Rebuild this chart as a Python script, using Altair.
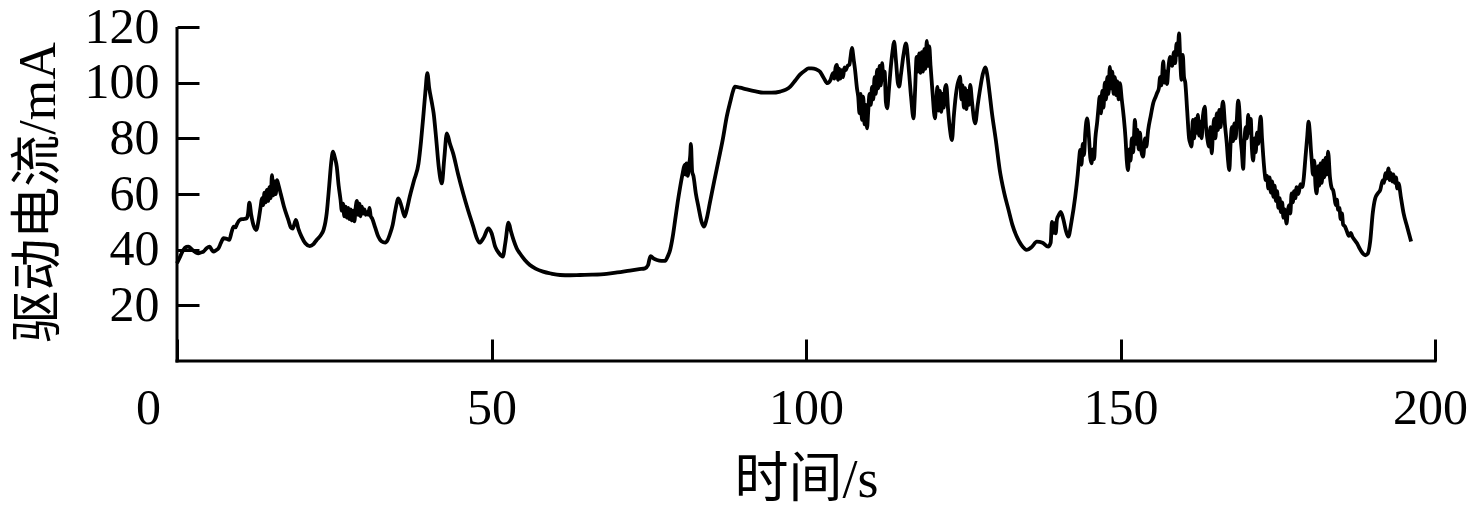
import altair as alt
import pandas as pd

# time (s), drive current (mA), in four segments
seg_0_50 = [
    [0, 35.1], [0.5, 37.5], [1.0, 39.9], [1.5, 41.0], [1.8, 41.1], [2.4, 40.0], [3.0, 39.0], [3.4, 38.7],
    [3.8, 39.0], [4.2, 39.3], [4.7, 40.5], [5.2, 41.1], [5.5, 40.0], [5.8, 39.3], [6.2, 39.8], [6.6, 40.5],
    [7.0, 42.5], [7.4, 44.1], [7.8, 44.0], [8.3, 43.5], [8.7, 46.5], [9.0, 48.3], [9.3, 48.0], [9.5, 49.0],
    [10.0, 50.7], [10.5, 51.0], [11.1, 51.3], [11.3, 53.0], [11.5, 56.9], [11.8, 52.5], [12.2, 48.5],
    [12.6, 47.1], [13.0, 51.0], [13.3, 55.5], [13.5, 58.5], [13.7, 56.0], [13.9, 60.5], [14.1, 57.0],
    [14.3, 61.5], [14.5, 57.5], [14.7, 62.5], [14.9, 58.5], [15.1, 66.8], [15.3, 59.5], [15.5, 64.5],
    [15.7, 60.0], [15.9, 65.0], [16.1, 63.5], [16.5, 60.0], [17.0, 55.5], [17.7, 50.7], [18.1, 48.0],
    [18.4, 47.6], [18.9, 50.7], [19.3, 47.5], [19.8, 44.7], [20.4, 42.3], [21.1, 41.3], [21.7, 42.0],
    [22.2, 43.5], [22.8, 45.0], [23.3, 47.1], [23.6, 50.0], [23.8, 53.1], [24.2, 63.0], [24.5, 71.0],
    [24.8, 75.2], [25.1, 73.0], [25.4, 69.8], [25.7, 63.0], [26.0, 57.9], [26.2, 54.0], [26.4, 56.5],
    [26.6, 52.0], [26.8, 55.5], [27.0, 51.5], [27.2, 55.0], [27.4, 51.0], [27.6, 54.5], [27.8, 50.5],
    [28.0, 54.0], [28.2, 50.2], [28.4, 55.0], [28.6, 57.5], [28.8, 52.5], [29.0, 56.5], [29.2, 52.0],
    [29.4, 55.5], [29.6, 53.0], [29.8, 54.5], [30.0, 52.5], [30.2, 53.5], [30.4, 52.5], [30.6, 55.0],
    [30.8, 52.0], [31.0, 51.3], [31.5, 48.0], [32.0, 44.7], [32.5, 43.0], [33.1, 42.5], [33.5, 43.5],
    [33.9, 45.9], [34.3, 49.0], [34.7, 54.0], [35.2, 58.4], [35.7, 55.5], [36.2, 51.9], [36.6, 55.0],
    [37.0, 59.0], [37.7, 65.0], [38.4, 71.0], [38.8, 79.0], [39.2, 89.0], [39.5, 97.0], [39.8, 103.4],
    [40.1, 98.0], [40.5, 93.0], [40.8, 89.0], [41.2, 80.0], [41.6, 70.0], [42.1, 63.8], [42.5, 73.0],
    [42.9, 81.8], [43.4, 78.0], [43.9, 74.6], [44.7, 67.0], [45.5, 60.2], [46.3, 54.0], [47.1, 48.3],
    [47.6, 44.5], [48.1, 42.5], [48.8, 44.5], [49.5, 47.6], [50.0, 46.0],
]
seg_50_100 = [
    [50.6, 41.0], [51.2, 38.7], [51.8, 37.5], [52.2, 42.5], [52.7, 49.7], [53.1, 46.5], [53.5, 43.5],
    [54.0, 40.5], [54.5, 38.7], [55.3, 36.3], [56.1, 34.5], [57.0, 33.2], [58.2, 32.1], [59.5, 31.4],
    [60.9, 30.9], [62.5, 30.8], [64.1, 30.9], [66.0, 31.0], [68.3, 31.3], [70.0, 31.8], [72.0, 32.5],
    [73.5, 33.0], [74.4, 33.3], [74.9, 34.5], [75.1, 36.5], [75.3, 37.7], [75.8, 36.8], [76.3, 36.3],
    [77.0, 36.0], [77.6, 36.0], [78.0, 37.5], [78.4, 39.9], [78.8, 44.5], [79.2, 50.7], [79.6, 57.0],
    [80.0, 62.6], [80.4, 67.5], [80.7, 70.5], [80.8, 67.0], [81.0, 71.0], [81.2, 66.5], [81.4, 70.5],
    [81.6, 74.0], [81.7, 78.0], [81.9, 68.0], [82.1, 66.5], [82.5, 60.0], [82.9, 55.4], [83.4, 50.0],
    [83.8, 48.3], [84.2, 51.0], [84.7, 56.6], [85.4, 64.5], [86.1, 72.2], [86.8, 80.0], [87.4, 87.8],
    [88.0, 93.5], [88.4, 97.0], [88.7, 98.6], [89.5, 98.2], [90.6, 97.6], [92.0, 96.9], [93.2, 96.4],
    [94.5, 96.4], [95.9, 96.8], [96.8, 97.5], [97.5, 98.6], [98.3, 100.8], [99.0, 102.8], [99.8, 104.3],
]
seg_100_150 = [
    [100.4, 105.1], [100.9, 105.1], [101.6, 104.8], [102.2, 104.0], [102.8, 101.8], [103.4, 99.8],
    [103.9, 101.0], [104.3, 103.4], [104.5, 101.5], [104.7, 105.5], [104.9, 106.4], [105.1, 101.0],
    [105.3, 105.0], [105.5, 101.5], [105.7, 104.5], [105.9, 102.0], [106.1, 105.5], [106.3, 104.5],
    [106.6, 106.0], [106.9, 106.5], [107.1, 109.5], [107.3, 112.5], [107.6, 108.0], [107.8, 104.6],
    [108.1, 98.0], [108.3, 95.0], [108.5, 89.0], [108.7, 96.0], [108.9, 86.6], [109.1, 95.0],
    [109.3, 85.0], [109.5, 92.0], [109.7, 83.6], [109.9, 90.0], [110.1, 96.0], [110.3, 92.0],
    [110.5, 98.5], [110.7, 94.0], [110.9, 102.0], [111.1, 96.0], [111.3, 104.6], [111.5, 98.0],
    [111.7, 106.0], [111.9, 99.0], [112.1, 107.0], [112.3, 101.0], [112.5, 104.0], [112.7, 93.0],
    [112.9, 90.8], [113.2, 98.0], [113.5, 106.0], [113.8, 112.0], [114.0, 114.7], [114.3, 108.0],
    [114.6, 100.0], [114.8, 98.6], [115.1, 103.0], [115.5, 110.0], [115.9, 114.1], [116.3, 106.0],
    [116.7, 95.0], [117.1, 87.2], [117.3, 95.0], [117.6, 109.3], [117.8, 104.0], [118.0, 110.5],
    [118.2, 103.5], [118.4, 111.0], [118.6, 104.0], [118.8, 112.0], [119.0, 105.0], [119.2, 115.0],
    [119.4, 106.0], [119.6, 113.0], [119.8, 106.0], [120.1, 97.0], [120.5, 87.2], [120.7, 93.0],
    [120.9, 98.5], [121.1, 90.0], [121.3, 97.0], [121.5, 89.5], [121.7, 96.0], [121.9, 91.0],
    [122.1, 98.0], [122.3, 99.2], [122.6, 90.0], [122.9, 83.0], [123.2, 79.4], [123.5, 88.0],
    [123.8, 95.0], [124.1, 99.5], [124.3, 101.0], [124.5, 102.2], [124.7, 94.0], [124.9, 99.0],
    [125.1, 91.0], [125.3, 98.0], [125.5, 90.5], [125.7, 97.0], [125.9, 92.0], [126.1, 99.2],
    [126.4, 93.0], [126.7, 87.0], [126.9, 85.4], [127.3, 92.0], [127.7, 98.0], [128.1, 103.0],
    [128.5, 105.5], [128.8, 103.0], [129.2, 96.0], [129.5, 90.2], [130.2, 79.0], [130.8, 68.6],
    [131.5, 60.5], [132.2, 54.3], [132.8, 49.0], [133.5, 44.7], [134.2, 41.8], [135.1, 39.9],
    [135.9, 41.0], [136.7, 42.9], [137.6, 42.5], [138.5, 41.1], [138.9, 42.5], [139.1, 50.0],
    [139.3, 46.0], [139.5, 49.5], [139.7, 45.9], [139.9, 51.0], [140.2, 52.5], [140.5, 53.6],
    [140.9, 51.0], [141.3, 47.0], [141.7, 44.7], [142.2, 50.0], [142.8, 59.0], [143.2, 67.0],
    [143.4, 72.0], [143.6, 75.8], [143.8, 70.5], [144.0, 78.0], [144.2, 74.0], [144.4, 82.0],
    [144.7, 87.2], [145.0, 80.0], [145.2, 73.0], [145.4, 71.0], [145.6, 76.0], [145.8, 72.5],
    [146.0, 80.0], [146.3, 86.0], [146.5, 91.0], [146.7, 95.0], [146.9, 89.0], [147.1, 97.0],
    [147.3, 91.0], [147.5, 100.0], [147.7, 94.0], [147.9, 102.0], [148.1, 96.0], [148.3, 105.7],
    [148.5, 98.0], [148.7, 104.0], [148.9, 96.0], [149.1, 102.0], [149.3, 95.5], [149.5, 100.5],
    [149.7, 94.0], [149.9, 99.8],
]
seg_150_200 = [
    [150.2, 94.0], [150.5, 88.0], [150.8, 80.0], [151.0, 72.0], [151.2, 68.6], [151.4, 76.0],
    [151.6, 72.0], [151.8, 80.0], [152.0, 75.0], [152.3, 86.6], [152.5, 78.0], [152.7, 83.0],
    [152.9, 76.0], [153.1, 82.0], [153.3, 75.5], [153.6, 73.4], [153.9, 80.0], [154.1, 77.0],
    [154.4, 83.0], [154.8, 88.0], [155.2, 92.6], [155.6, 95.0], [155.8, 96.2], [156.1, 98.0],
    [156.3, 102.0], [156.5, 99.0], [156.8, 107.6], [157.0, 100.0], [157.2, 104.0], [157.4, 99.5],
    [157.6, 105.0], [157.9, 109.3], [158.2, 106.0], [158.5, 111.0], [158.7, 107.0], [158.9, 114.0],
    [159.1, 110.0], [159.3, 117.7], [159.5, 108.0], [159.7, 101.0], [159.9, 110.0], [160.1, 102.0],
    [160.3, 100.0], [160.6, 90.0], [160.9, 80.0], [161.1, 78.2], [161.3, 77.0], [161.5, 86.6],
    [161.7, 80.0], [161.9, 87.0], [162.1, 82.0], [162.3, 88.4], [162.5, 81.0], [162.7, 86.0],
    [162.9, 80.0], [163.1, 88.0], [163.4, 91.4], [163.6, 84.0], [163.8, 80.0], [164.1, 77.0],
    [164.3, 84.0], [164.5, 74.6], [164.7, 82.0], [164.9, 87.0], [165.1, 80.0], [165.3, 89.0],
    [165.5, 83.0], [165.7, 90.2], [165.9, 84.0], [166.1, 90.0], [166.3, 93.2], [166.6, 85.0],
    [166.9, 78.0], [167.1, 72.0], [167.3, 68.6], [167.5, 78.0], [167.7, 84.0], [167.9, 79.0],
    [168.1, 85.4], [168.3, 80.0], [168.5, 87.0], [168.7, 93.5], [168.9, 90.0], [169.1, 80.0],
    [169.3, 75.0], [169.5, 69.0], [169.7, 79.0], [169.9, 84.0], [170.1, 80.0], [170.3, 88.4],
    [170.5, 82.0], [170.7, 87.0], [170.9, 76.0], [171.1, 72.0], [171.3, 80.0], [171.5, 75.0],
    [171.7, 82.0], [171.9, 78.0], [172.1, 84.0], [172.3, 87.8], [172.5, 80.0], [172.7, 73.4],
    [172.9, 68.0], [173.1, 65.0], [173.3, 66.5], [173.5, 62.0], [173.7, 66.0], [173.9, 60.5],
    [174.1, 64.5], [174.3, 59.0], [174.5, 63.0], [174.7, 57.5], [174.9, 61.0], [175.1, 55.0],
    [175.3, 58.5], [175.5, 53.5], [175.7, 57.0], [175.9, 51.5], [176.1, 54.5], [176.4, 49.4],
    [176.6, 54.0], [176.8, 56.0], [177.0, 53.0], [177.2, 60.2], [177.4, 57.0], [177.6, 61.0],
    [177.8, 58.5], [178.0, 62.5], [178.3, 60.0], [178.6, 63.5], [178.9, 62.5], [179.1, 65.0],
    [179.4, 73.0], [179.7, 81.0], [179.9, 86.0], [180.1, 82.0], [180.3, 75.0], [180.4, 72.2],
    [180.6, 67.0], [180.8, 72.0], [181.0, 63.0], [181.2, 60.2], [181.4, 70.0], [181.6, 63.0],
    [181.8, 71.0], [182.0, 64.0], [182.2, 72.0], [182.4, 66.0], [182.6, 73.0], [182.8, 67.0],
    [183.0, 75.2], [183.3, 66.0], [183.6, 62.0], [183.8, 61.4], [184.0, 59.0], [184.2, 56.0],
    [184.4, 58.0], [184.6, 54.3], [184.8, 55.0], [185.0, 51.0], [185.2, 53.0], [185.4, 49.0],
    [185.7, 48.3], [186.0, 46.5], [186.3, 45.0], [186.6, 46.0], [186.9, 44.5], [187.2, 43.5],
    [187.6, 42.3], [188.0, 40.5], [188.4, 39.0], [188.9, 38.0], [189.3, 38.5], [189.7, 43.0],
    [190.1, 53.1], [190.5, 58.5], [190.9, 60.2], [191.3, 61.5], [191.7, 65.0], [191.9, 64.0],
    [192.1, 67.5], [192.3, 65.5], [192.5, 68.0], [192.6, 69.2], [192.8, 65.0], [193.0, 67.5],
    [193.2, 64.5], [193.4, 67.0], [193.6, 64.0], [193.8, 66.0], [194.0, 62.0], [194.2, 63.8],
    [194.6, 58.5], [195.0, 53.1], [195.6, 48.0], [196.2, 42.9],
]

x_ticks = [0, 50, 100, 150, 200]
y_ticks = [20, 40, 60, 80, 100, 120]

rows = seg_0_50 + seg_50_100 + seg_100_150 + seg_150_200
df = pd.DataFrame(rows, columns=["t", "i"])

W, H = 1258, 334
LATIN = "Liberation Serif"
TITLE_FONT = "Liberation Serif, Noto Sans CJK SC"

x_enc = alt.X(
    "t:Q",
    scale=alt.Scale(domain=[0, 200], nice=False, zero=False),
    axis=alt.Axis(
        values=x_ticks, title="时间/s", offset=-22, tickSize=22, tickWidth=3,
        tickColor="black", domain=False, grid=False, labelFont=LATIN, labelFontSize=50,
        labelColor="black", labelPadding=22, labelFlush=False,
        labelOffset={"condition": [{"test": "datum.value === 0", "value": -29},
                                   {"test": "datum.value === 200", "value": -5}],
                     "value": 0},
        titleFont=TITLE_FONT, titleFontSize=54, titleFontWeight="normal", titleColor="black",
        titleX=W / 2, titleY=141, titleBaseline="middle", titleAlign="center",
    ),
)
y_enc = alt.Y(
    "i:Q",
    scale=alt.Scale(domain=[0, 120], nice=False, zero=True),
    axis=alt.Axis(
        values=y_ticks, title="驱动电流/mA", offset=-22, tickSize=22, tickWidth=3,
        tickColor="black", domain=False, grid=False, labelFont=LATIN, labelFontSize=50,
        labelColor="black", labelPadding=18, labelFlush=False,
        titleFont=TITLE_FONT, titleFontSize=52, titleFontWeight="normal", titleColor="black",
        titleX=-161, titleY=165, titleBaseline="middle", titleAlign="center", titleAngle=270,
    ),
)

line = alt.Chart(df).mark_line(color="black", strokeWidth=3.8, interpolate="monotone",
                               strokeJoin="round").encode(x=x_enc, y=y_enc)

frame_data = alt.Data(values=[{"k": 1}])
y_axis_line = alt.Chart(frame_data).mark_rule(color="black", strokeWidth=3).encode(
    x=alt.value(0), y=alt.value(0), y2=alt.value(H + 1.5))
x_axis_line = alt.Chart(frame_data).mark_rule(color="black", strokeWidth=3).encode(
    x=alt.value(-1.5), x2=alt.value(W + 1.5), y=alt.value(H))

chart = alt.layer(line, y_axis_line, x_axis_line).properties(
    width=W, height=H,
    background="white",
    autosize=alt.AutoSizeParams(type="none"),
    padding={"left": 169, "top": 19, "right": 35, "bottom": 150},
).configure_view(strokeWidth=0, stroke=None)

chart.save("out.html", embed_options={"renderer": "svg", "actions": False})
